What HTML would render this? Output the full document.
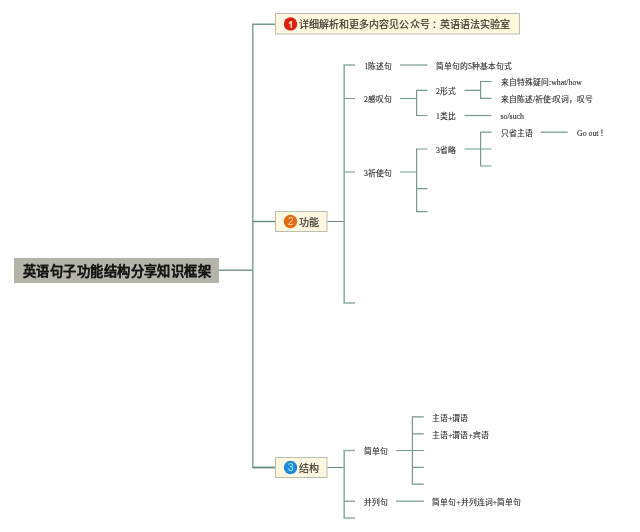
<!DOCTYPE html>
<html lang="zh-CN">
<head>
<meta charset="utf-8">
<style>
html,body{margin:0;padding:0;background:#fff;}
body{width:640px;height:532px;position:relative;overflow:hidden;will-change:transform;font-family:"Liberation Sans",sans-serif;}
svg{position:absolute;left:0;top:0;}
.t{position:absolute;white-space:nowrap;text-spacing-trim:space-all;-webkit-text-stroke:0.1px #262626;line-height:12px;height:12px;font-size:7.8px;color:#262626;}
.s{font-family:"Liberation Serif",serif;}
.m{position:absolute;white-space:nowrap;font-size:10px;line-height:14px;height:14px;color:#38342a;-webkit-text-stroke:0.2px #38342a;}
.c{position:absolute;white-space:nowrap;font-size:13.4px;line-height:18px;height:18px;color:#151515;font-weight:bold;-webkit-text-stroke:0.1px #151515;}
</style>
</head>
<body>
<svg width="640" height="532" viewBox="0 0 640 532">
  <!-- central node -->
  <rect x="14" y="258" width="205" height="25" fill="#b3b3a7"/>
  <!-- trunk -->
  <g fill="none" stroke-width="1.4">
    <path stroke="#789c90" d="M219 270.2H252.8"/>
    <path stroke="#789c90" d="M275 24.2H252.8V467.5H275"/>
    <path stroke="#62867a" d="M252.8 221.5H275"/>
    <path stroke="#62867a" d="M252.8 467.5H275"/>
  </g>
  <!-- level-1 boxes -->
  <g fill="#fdf7df" stroke="#b9beb1" stroke-width="1">
    <rect x="275.5" y="13.5" width="244" height="20.5"/>
    <rect x="275.5" y="211.5" width="51.5" height="20"/>
    <rect x="275.5" y="457.5" width="51.5" height="20"/>
  </g>
  <circle cx="290.5" cy="23.9" r="6.7" fill="#d9200f"/>
  <circle cx="290.5" cy="221.5" r="6.7" fill="#e26a16"/>
  <circle cx="290.5" cy="467.5" r="6.7" fill="#1d8bd9"/>
  <g fill="none" stroke="#73998d" stroke-width="1.2">
    <!-- 功能 -->
    <path stroke="#688a7e" stroke-width="1" d="M327.5 221.5H344"/>
    <path stroke="#8db0a5" stroke-width="1.6" d="M355 65H344.2V303H355"/>
    <path d="M344.1 98.5H355M344.1 172H355"/>
    <!-- 陈述句 -->
    <path d="M400 65H427.5"/>
    <!-- 感叹句 -->
    <path d="M400 98.5H416.6M427.5 90.3H416.6V115.5H427.5"/>
    <!-- 形式 -->
    <path d="M464.4 90.3H480.6M491.5 81.5H480.6V98.4H491.5"/>
    <!-- 类比 -->
    <path d="M464.4 115.5H491.5"/>
    <!-- 祈使句 -->
    <path d="M400 172H416.6M427.5 149H416.6V211.7H427.5M416.6 188.7H427.5"/>
    <!-- 省略 -->
    <path d="M464.4 149H491.5M491.5 132.2H480.6V166H491.5"/>
    <!-- 只省主语 -->
    <path d="M540.6 132.2H567.8"/>
    <!-- 结构 -->
    <path stroke="#648679" stroke-width="1" d="M327.5 467.5H344"/>
    <path stroke="#8db0a5" stroke-width="1.6" d="M355 450.5H344.2V518H355"/><path d="M344.1 501.2H355"/>
    <!-- 简单句 -->
    <path d="M396 450.5H412.4M423.8 416.8H412.4V484.2H423.8M412.4 433.8H423.8M412.4 450.5H423.8M412.4 467.3H423.8"/>
    <!-- 并列句 -->
    <path d="M396 501.2H423.8"/>
  </g>
  <path d="M290.4 20.9H292.1V28.1H290.4V23.4L288.8 24.4V22.7Z" fill="#ffc9ad"/>
  <text x="290.6" y="225" font-size="10.5" text-anchor="middle" fill="#ffd49c" font-family="Liberation Sans, sans-serif">2</text>
  <text x="290.7" y="471" font-size="10.5" text-anchor="middle" fill="#b0e6ff" font-family="Liberation Sans, sans-serif">3</text>
</svg>

<!-- central text -->
<div class="c" style="left:23px;top:263.2px;font-size:13.2px;letter-spacing:0.45px;">英语句子功能结构分享知识框架</div>

<!-- level-1 -->
<div class="m" style="left:299px;top:18.4px;letter-spacing:0.05px;">详细解析和更多内容见公众号<span style="position:relative;left:2.8px">：</span>英语语法实验室</div>
<div class="m" style="left:299px;top:216px;">功能</div>
<div class="m" style="left:299px;top:462px;">结构</div>

<!-- level-2 功能 -->
<div class="t" style="left:364.5px;top:60.7px;"><span class="s">1</span>陈述句</div>
<div class="t" style="left:364px;top:94.2px;"><span class="s">2</span>感叹句</div>
<div class="t" style="left:364px;top:167.7px;"><span class="s">3</span>祈使句</div>

<div class="t" style="left:436px;top:60.7px;">简单句的<span class="s">5</span>种基本句式</div>
<div class="t" style="left:436px;top:86.0px;"><span class="s">2</span>形式</div>
<div class="t" style="left:436px;top:111.2px;"><span class="s">1</span>类比</div>
<div class="t" style="left:501px;top:77.2px;">来自特殊疑问<span class="s">:what/how</span></div>
<div class="t" style="left:501px;top:94.1px;">来自陈述<span class="s">/</span>祈使<span class="s">:</span>叹词，叹号</div>
<div class="t" style="left:500.5px;top:111.2px;"><span class="s">so/such</span></div>
<div class="t" style="left:436px;top:144.7px;"><span class="s">3</span>省略</div>
<div class="t" style="left:501px;top:127.9px;">只省主语</div>
<div class="t" style="left:577px;top:127.9px;"><span class="s">Go out</span><span style="margin-left:2px">！</span></div>

<!-- level-2 结构 -->
<div class="t" style="left:364px;top:446.2px;">简单句</div>
<div class="t" style="left:364px;top:496.9px;">并列句</div>
<div class="t" style="left:432px;top:412.5px;">主语<span class="s">+</span>谓语</div>
<div class="t" style="left:432px;top:429.5px;">主语<span class="s">+</span>谓语<span class="s">+</span>宾语</div>
<div class="t" style="left:432.3px;top:496.9px;">简单句<span class="s">+</span>并列连词<span class="s">+</span>简单句</div>
</body>
</html>
